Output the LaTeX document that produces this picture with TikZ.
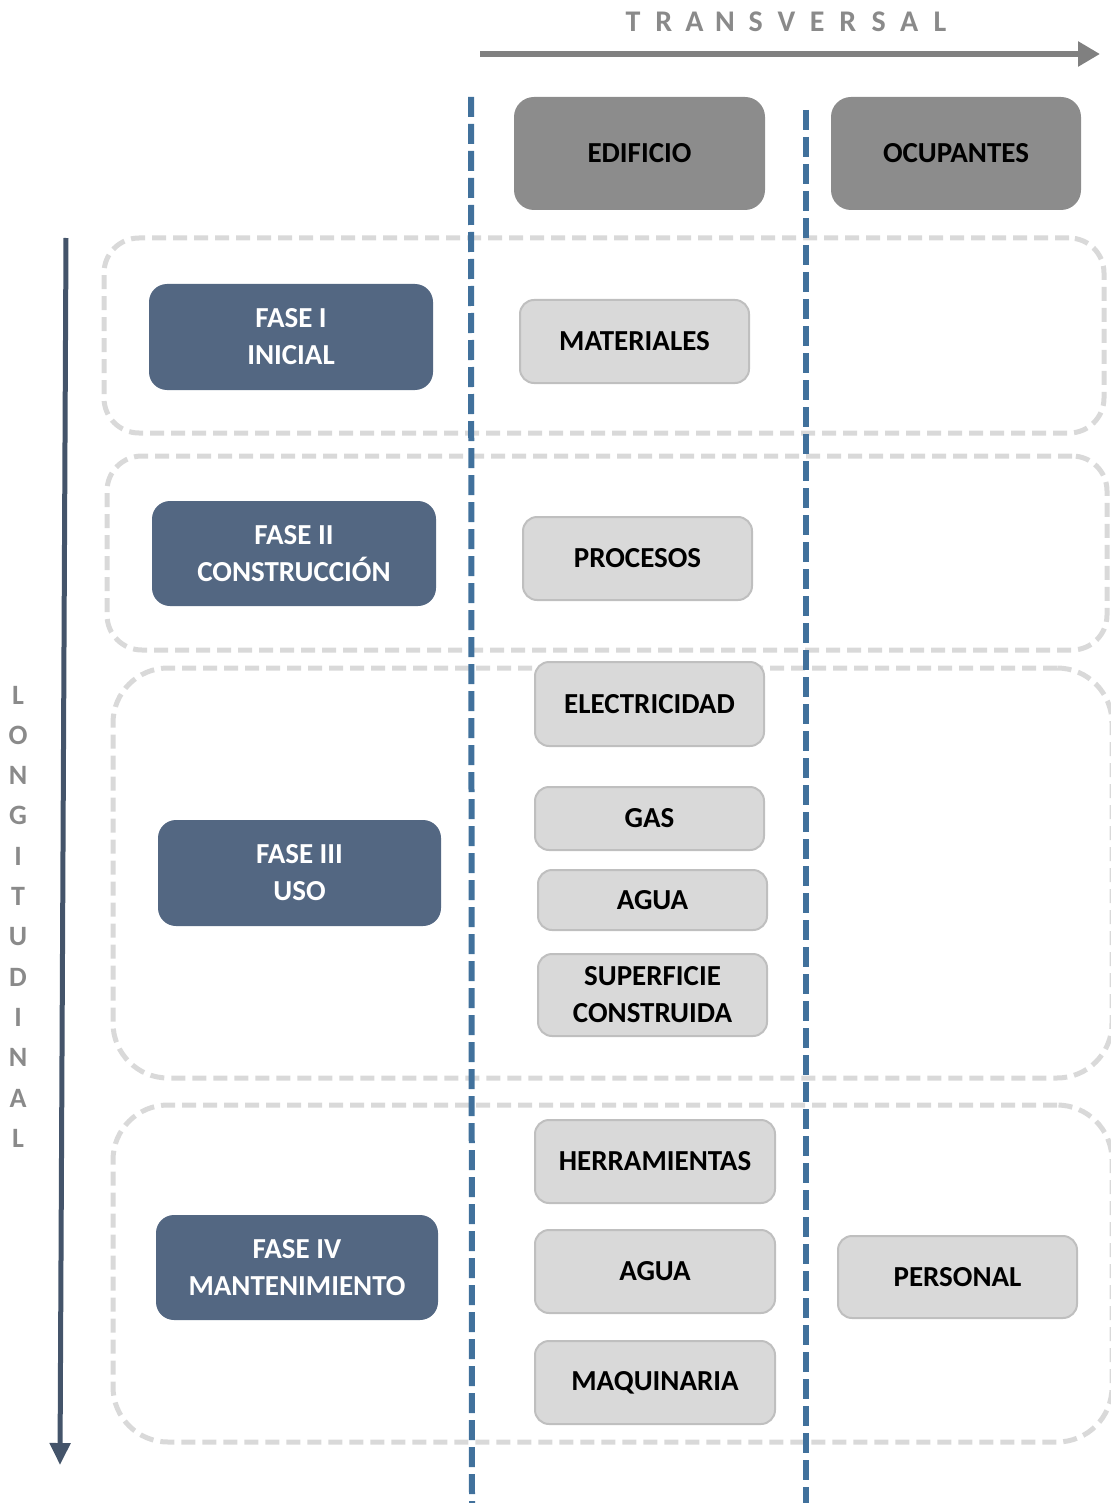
\documentclass[tikz,border=0pt]{standalone}
\usepackage{fontspec}
\setmainfont{Carlito}
\usetikzlibrary{arrows.meta}

\definecolor{phaseblue}{RGB}{83,103,130}
\definecolor{headgray}{RGB}{140,140,140}
\definecolor{itemfill}{RGB}{217,217,217}
\definecolor{itemedge}{RGB}{191,191,191}
\definecolor{groupedge}{RGB}{217,217,217}
\definecolor{axisblue}{RGB}{65,113,156}
\definecolor{longarrow}{RGB}{68,84,106}
\definecolor{transarrow}{RGB}{128,128,128}
\definecolor{axislabel}{RGB}{138,138,138}

\begin{document}
\begin{tikzpicture}[x=1pt,y=-1pt,
  boxtext/.style={font=\bfseries\fontsize{29pt}{37pt}\selectfont, align=center, inner sep=0pt},
  phase/.style={boxtext, fill=phaseblue, text=white, rounded corners=18pt, minimum width=283pt, minimum height=106pt},
  head/.style={boxtext, fill=headgray, text=black, rounded corners=20pt, minimum width=251pt, minimum height=113pt},
  item/.style={boxtext, fill=itemfill, draw=itemedge, line width=2pt, text=black, rounded corners=14pt, minimum width=229pt, minimum height=83pt},
  group/.style={draw=groupedge, line width=5pt, dash pattern=on 14pt off 7pt, inner sep=0pt},
  divider/.style={draw=axisblue, line width=6pt, dash pattern=on 20pt off 7pt},
  letter/.style={font=\bfseries\fontsize{30pt}{30pt}\selectfont, text=axislabel, inner sep=0pt}
]
\useasboundingbox (0,0) rectangle (1110,1503);

% dashed groups, one per phase
\node[group, rounded corners=35pt, minimum width=1000pt, minimum height=195pt] (g1) at (604,335.5) {};
\node[group, rounded corners=35pt, minimum width=1000pt, minimum height=194pt] (g2) at (607,553) {};
\node[group, rounded corners=55pt, minimum width=999pt, minimum height=410pt] (g3) at (612.5,873) {};
\node[group, rounded corners=55pt, minimum width=999pt, minimum height=337pt] (g4) at (612.5,1273.5) {};

% vertical column dividers
\coordinate (d1t) at (471,97);
\coordinate (d1b) at (472,1503);
\coordinate (d2t) at (806,110);
\coordinate (d2b) at (806,1503);
\draw[divider] (d1t) -- (d1b);
\draw[divider] (d2t) -- (d2b);

% transversal axis
\coordinate (ts) at (480,54);
\coordinate (te) at (1100,54);
\draw[transarrow, line width=6pt, -{Triangle[length=22pt,width=24pt]}] (ts) -- (te);
\foreach \ch [count=\i from 0] in {T,R,A,N,S,V,E,R,S,A,L}
  \node[letter] (tl\i) at (633+30.7*\i,22) {\ch};

% longitudinal axis
\coordinate (ls) at (66,238);
\coordinate (le) at (60,1465);
\draw[longarrow, line width=5pt, -{Triangle[length=22pt,width=20pt]}] (ls) -- (le);
\foreach \ch [count=\i from 0] in {L,O,N,G,I,T,U,D,I,N,A,L}
  \node[letter, font=\bfseries\fontsize{28pt}{28pt}\selectfont] (ll\i) at (18,695+40.3*\i) {\ch};

% column headers
\node[head] (edificio) at (639.5,153.5) {EDIFICIO};
\node[head, minimum width=250pt] (ocupantes) at (956,153.5) {OCUPANTES};

% phases
\node[phase, minimum width=284pt] (f1) at (291,337) {FASE I\\INICIAL};
\node[phase, minimum width=284pt, minimum height=105pt] (f2) at (294,553.5) {FASE II\\CONSTRUCCIÓN};
\node[phase] (f3) at (299.5,873) {FASE III\\USO};
\node[phase, minimum width=282pt, minimum height=105pt] (f4) at (297,1267.5) {FASE IV\\MANTENIMIENTO};

% building items
\node[item] (materiales) at (634.5,341.5) {MATERIALES};
\node[item] (procesos) at (637.5,558.5) {PROCESOS};
\node[item, minimum height=84pt] (electricidad) at (649.5,704) {ELECTRICIDAD};
\node[item, minimum height=63pt] (gas) at (649.5,818.5) {GAS};
\node[item, minimum height=60pt] (agua) at (652.5,900) {AGUA};
\node[item, minimum height=82pt] (superficie) at (652.5,995) {SUPERFICIE\\CONSTRUIDA};
\node[item, minimum width=240pt] (herramientas) at (655,1161.5) {HERRAMIENTAS};
\node[item, minimum width=240pt] (aguamant) at (655,1271.5) {AGUA};
\node[item, minimum width=240pt] (maquinaria) at (655,1382.5) {MAQUINARIA};

% occupant items
\node[item, minimum width=239pt, minimum height=82pt] (personal) at (957.5,1277) {PERSONAL};
\end{tikzpicture}
\end{document}
